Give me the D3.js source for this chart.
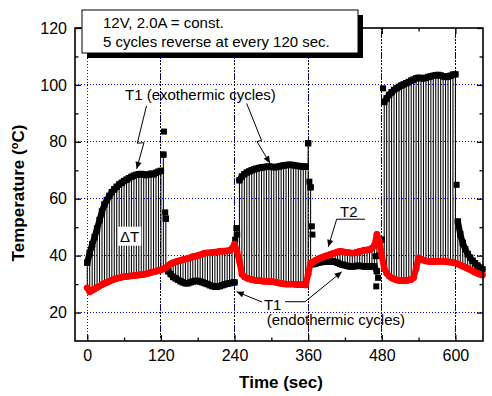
<!DOCTYPE html>
<html>
<head>
<meta charset="utf-8">
<script src="https://cdn.jsdelivr.net/npm/d3@7"></script>
<style>
  body { margin: 0; background: #fff; }
  svg text { font-family: "Liberation Sans", Arial, sans-serif; fill: #000; }
</style>
</head>
<body>
<svg id="chart" width="492" height="396"></svg>
<script>
// readings taken every 4 s
const times = d3.range(0, 648, 4)

// T1, black squares
const t1Values = [
  37.5, 41, 44, 46.5, 49.5, 52.5, 55.5, 58, 59.5, 61,
  62.3, 63.3, 64.2, 65, 65.6, 66.2, 66.7, 67.2, 67.7, 68.1,
  68.4, 68.6, 68.7, 68.5, 68.3, 68.5, 68.8, 68.6, 69.1, 69.5,
  69.8, 75.5, 53, 34.5, 33.5, 32.5, 32, 31.5, 31, 30.6,
  30.3, 30.3, 30.6, 30.9, 31.1, 31.1, 30.9, 30.6, 30.3, 30,
  29.6, 29.3, 29.1, 29.1, 29.3, 29.6, 29.9, 30.1, 30.3, 30.5,
  30.6, 47.4, 66.5, 67.8, 68.6, 69.2, 69.6, 70, 70.3, 70.6,
  70.8, 71, 71.1, 71.2, 71.3, 71.2, 71.1, 71.1, 71.3, 71.5,
  71.7, 71.8, 71.9, 71.9, 71.8, 71.6, 71.5, 71.4, 71.3, 71.3,
  79.5, 64, 37, 37.2, 37.5, 37.7, 37.8, 37.9, 37.9, 38,
  38, 37.8, 37.5, 37.1, 36.8, 36.6, 36.4, 36.2, 36.2, 36.3,
  36.4, 36.4, 36.3, 36.2, 36.2, 36.2, 36.3, 36.2, 34.5, 40,
  45.6, 94, 95.3, 96.5, 97.4, 98.2, 98.8, 99.3, 99.8, 100.2,
  100.6, 101, 101.5, 101.9, 102.3, 102.5, 102.4, 102.3, 102.5, 102.8,
  103, 103.2, 103.4, 103.5, 103.3, 103, 102.8, 102.9, 103.2, 103.6,
  103.7, 52, 47.5, 44.5, 42.3, 40.6, 39.3, 38.2, 37.3, 36.5,
  35.8, 35.2
]

// T2, red circles
const t2Values = [
  28.7, 27.3, 27.8, 28.3, 28.8, 29.3, 29.8, 30.2, 30.6, 31,
  31.4, 31.7, 32, 32.2, 32.4, 32.6, 32.7, 32.8, 32.9, 33,
  33.1, 33.2, 33.3, 33.4, 33.6, 33.8, 34.1, 34.3, 34.5, 34.8,
  35, 35.3, 35.8, 36.5, 37.1, 37.5, 37.8, 38.1, 38.3, 38.6,
  38.8, 39, 39.3, 39.6, 39.8, 40, 40.3, 40.6, 40.9, 41,
  41, 41.1, 41.2, 41.3, 41.5, 41.6, 41.6, 41.7, 41.8, 42.5,
  44, 41.5, 38, 33.5, 32.6, 32.1, 31.8, 31.6, 31.4, 31.3,
  31.2, 31.1, 31, 31, 30.9, 30.9, 30.8, 30.6, 30.4, 30.2,
  30.1, 30, 30, 30, 30, 29.9, 29.8, 29.8, 29.8, 29.7,
  33.5, 37.4, 37.8, 38.3, 38.8, 39.2, 39.5, 39.8, 40.1, 40.4,
  40.7, 41, 41.3, 41.5, 41.4, 41.2, 41.1, 41, 40.9, 41,
  41.2, 41.5, 41.7, 41.9, 42, 42.1, 42.6, 43.5, 47.5, 45,
  40, 35.5, 33.8, 32.8, 32.2, 31.8, 31.5, 31.3, 31.2, 31.2,
  31.3, 31.4, 31.6, 32.3, 35.5, 39.2, 38.8, 38.4, 38.1, 38,
  37.9, 37.9, 38, 38, 38, 38, 37.9, 37.8, 37.7, 37.6,
  37.4, 37.1, 36.7, 36.3, 35.9, 35.5, 35.1, 34.6, 34.2, 33.8,
  33.5, 33.2
]

// stray T1 squares logged right after each reversal
const t1Spikes = [
  [125, 83.6], [127, 55.2], [241, 45.6], [243, 49.7], [362, 66], [366, 50.3],
  [367, 47.4], [470, 39.8], [471, 29.2], [474, 32.2], [482, 98.8], [602, 64.9]
]

const xTicks = [0, 120, 240, 360, 480, 600]
const xMinor = [60, 180, 300, 420, 540]
const yTicks = [20, 40, 60, 80, 100, 120]
const yMinor = [30, 50, 70, 90, 110]
const yGrid = [20, 40, 60, 80, 100]
const reverseTimes = [120, 240, 360, 480, 600]

const svg = d3.select("#chart")
const x = d3.scaleLinear().domain([-20, 645]).range([75, 483])
const y = d3.scaleLinear().domain([10, 120]).range([341, 28])

svg.append("defs").append("marker")
  .attr("id", "arrow")
  .attr("viewBox", "0 0 10 10")
  .attr("refX", 10).attr("refY", 5)
  .attr("markerWidth", 8).attr("markerHeight", 7)
  .attr("markerUnits", "userSpaceOnUse")
  .attr("orient", "auto")
  .append("path").attr("d", "M0,0.5 L10,5 L0,9.5 z").attr("fill", "#000")

// grid
const grid = svg.append("g").attr("shape-rendering", "crispEdges")
grid.selectAll("line.h").data(yGrid).join("line").attr("class", "h")
  .attr("x1", 75).attr("x2", 483)
  .attr("y1", d => y(d)).attr("y2", d => y(d))
  .attr("stroke", "#0000ff").attr("stroke-dasharray", "1,2")
grid.selectAll("line.v").data(xTicks).join("line").attr("class", "v")
  .attr("x1", d => x(d)).attr("x2", d => x(d))
  .attr("y1", 28).attr("y2", 341)
  .attr("stroke", "#0000ff").attr("stroke-dasharray", "1,2")
grid.selectAll("line.r").data(reverseTimes).join("line").attr("class", "r")
  .attr("x1", d => x(d)).attr("x2", d => x(d))
  .attr("y1", 28).attr("y2", 341)
  .attr("stroke", "#000").attr("stroke-dasharray", "2,1.5")

// delta T hatching between the two curves
svg.append("g").selectAll("line").data(times).join("line")
  .attr("x1", d => x(d)).attr("x2", d => x(d))
  .attr("y1", (d, i) => y(t1Values[i]))
  .attr("y2", (d, i) => y(t2Values[i]))
  .attr("stroke", "#000").attr("stroke-width", 1.05)

// split a series where it jumps, so the thick trace is not drawn across reversals
function runs(vals) {
  const out = []
  let cur = []
  vals.forEach((v, i) => {
    if (cur.length && Math.abs(v - vals[i - 1]) > 5) { out.push(cur); cur = [] }
    cur.push([times[i], v])
  })
  out.push(cur)
  return out
}

const line = d3.line().x(d => x(d[0])).y(d => y(d[1]))

function drawSeries(vals, color, isSquare) {
  const g = svg.append("g")
  g.selectAll("path").data(runs(vals)).join("path")
    .attr("d", line)
    .attr("fill", "none").attr("stroke", color)
    .attr("stroke-width", 6.2).attr("stroke-linejoin", "round").attr("stroke-linecap", "round")
  if (isSquare) {
    g.selectAll("rect").data(vals).join("rect")
      .attr("x", (d, i) => x(times[i]) - 3.2).attr("y", d => y(d) - 3.2)
      .attr("width", 6.4).attr("height", 6.4).attr("fill", color)
  } else {
    g.selectAll("circle").data(vals).join("circle")
      .attr("cx", (d, i) => x(times[i])).attr("cy", d => y(d))
      .attr("r", 3.4).attr("fill", color)
  }
  return g
}

drawSeries(t1Values, "#000", true)
svg.append("g").selectAll("rect").data(t1Spikes).join("rect")
  .attr("x", d => x(d[0]) - 3).attr("y", d => y(d[1]) - 3)
  .attr("width", 6).attr("height", 6).attr("fill", "#000")
drawSeries(t2Values, "#ff0000", false)

// axes
function styleAxis(g) {
  g.select(".domain").remove()
  g.selectAll("line").attr("stroke", "#000").attr("stroke-width", 1.3)
  g.selectAll("text").attr("font-size", 16).attr("font-family", null)
}
svg.append("g").attr("transform", "translate(0,341)")
  .call(d3.axisBottom(x).tickValues(xTicks).tickSize(-6).tickPadding(9)).call(styleAxis)
svg.append("g").attr("transform", "translate(0,341)")
  .call(d3.axisBottom(x).tickValues(xMinor).tickSize(-3.5).tickFormat("")).call(styleAxis)
svg.append("g").attr("transform", "translate(0,28)")
  .call(d3.axisTop(x).tickValues(xTicks).tickSize(-6).tickFormat("")).call(styleAxis)
svg.append("g").attr("transform", "translate(0,28)")
  .call(d3.axisTop(x).tickValues(xMinor).tickSize(-3.5).tickFormat("")).call(styleAxis)
svg.append("g").attr("transform", "translate(75,0)")
  .call(d3.axisLeft(y).tickValues(yTicks).tickSize(-6).tickPadding(8)).call(styleAxis)
svg.append("g").attr("transform", "translate(75,0)")
  .call(d3.axisLeft(y).tickValues(yMinor).tickSize(-3.5).tickFormat("")).call(styleAxis)
svg.append("g").attr("transform", "translate(483,0)")
  .call(d3.axisRight(y).tickValues(yTicks).tickSize(-6).tickFormat("")).call(styleAxis)
svg.append("g").attr("transform", "translate(483,0)")
  .call(d3.axisRight(y).tickValues(yMinor).tickSize(-3.5).tickFormat("")).call(styleAxis)

svg.append("rect")
  .attr("x", 75).attr("y", 28).attr("width", 408).attr("height", 313)
  .attr("fill", "none").attr("stroke", "#000").attr("stroke-width", 1.6)

// axis titles
svg.append("text")
  .attr("x", 281).attr("y", 388).attr("text-anchor", "middle")
  .attr("font-size", 17).attr("font-weight", "bold")
  .text("Time (sec)")
const yTitle = svg.append("text")
  .attr("transform", "translate(24,193) rotate(-90)")
  .attr("text-anchor", "middle")
  .attr("font-size", 17).attr("font-weight", "bold")
yTitle.append("tspan").text("Temperature (")
yTitle.append("tspan").attr("dy", -6).attr("font-size", 11).text("o")
yTitle.append("tspan").attr("dy", 6).text("C)")

// condition box
svg.append("rect").attr("x", 87).attr("y", 15).attr("width", 276).attr("height", 43).attr("fill", "#000")
svg.append("rect").attr("x", 82).attr("y", 10).attr("width", 276).attr("height", 43)
  .attr("fill", "#fff").attr("stroke", "#000").attr("stroke-width", 1)
svg.append("text").attr("x", 103).attr("y", 28).attr("font-size", 15).text("12V, 2.0A = const.")
svg.append("text").attr("x", 103).attr("y", 47).attr("font-size", 15).text("5 cycles reverse at every 120 sec.")

// annotations, placed in data units
const notes = svg.append("g")
function arrowPath(pts) {
  notes.append("path").attr("d", line(pts))
    .attr("fill", "none").attr("stroke", "#000").attr("stroke-width", 1)
    .attr("marker-end", "url(#arrow)")
}
notes.append("text").attr("x", x(61.5)).attr("y", y(94.7)).attr("font-size", 15)
  .text("T1 (exothermic cycles)")
arrowPath([[96.5, 92.6], [81.5, 79.5], [92.4, 79.7], [80.5, 70.5]])
arrowPath([[259.8, 93.5], [284, 80.5], [276.6, 80.1], [297.8, 72.5]])

notes.append("text").attr("x", x(411.9)).attr("y", y(53.7)).attr("font-size", 15).text("T2")
arrowPath([[452.7, 52.8], [406.5, 52.8], [392.8, 43.1]])

notes.append("text").attr("x", x(288)).attr("y", y(20.9)).attr("font-size", 15).text("T1")
notes.append("text").attr("x", x(292.4)).attr("y", y(15.6)).attr("font-size", 15).text("(endothermic cycles)")
arrowPath([[284.8, 23.7], [243.5, 27.3]])
arrowPath([[322.3, 23.8], [354.9, 23.8], [414.7, 34.3]])

const dT = notes.append("text").attr("x", x(53.5)).attr("y", y(44.9)).attr("font-size", 15).text("ΔT")
const bb = dT.node().getBBox()
notes.insert("rect", "text")
  .attr("x", bb.x - 2).attr("y", bb.y - 1).attr("width", bb.width + 4).attr("height", bb.height + 2)
  .attr("fill", "#fff")
</script>
</body>
</html>
